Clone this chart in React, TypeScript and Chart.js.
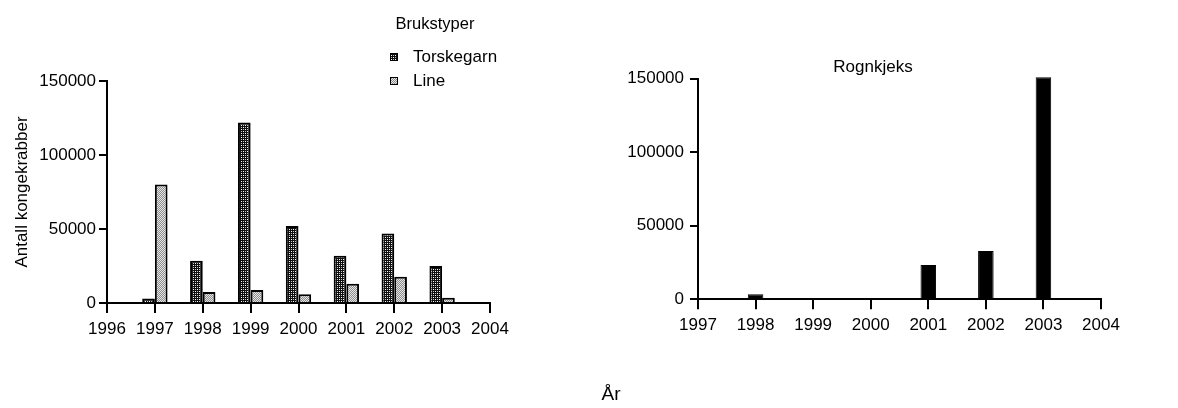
import { useEffect, useRef } from 'react';
import { Chart, registerables } from 'chart.js';
Chart.register(...registerables);

const leftYears = ['1996', '1997', '1998', '1999', '2000', '2001', '2002', '2003', '2004'];
const torskegarn = [null, 3000, 28500, 122000, 52000, 32000, 47000, 25000, null];
const lineSeries = [null, 80000, 7500, 8800, 5900, 13000, 17800, 3500, null];
const rightYears = ['1997', '1998', '1999', '2000', '2001', '2002', '2003', '2004'];
const rognkjeks = [null, 3400, 0, 0, 23300, 32800, 151000, null];
const yTicks = [0, 50000, 100000, 150000];
const legendTitle = 'Brukstyper';
const seriesNames = ['Torskegarn', 'Line'];
const rightTitle = 'Rognkjeks';
const yTitle = 'Antall kongekrabber';
const xTitle = 'År';

const FONT = '"Liberation Sans", Arial, sans-serif';

function makePattern(kind: 'dark' | 'light'): CanvasPattern | string {
  const c = document.createElement('canvas');
  const g = c.getContext('2d');
  if (!g) return kind === 'dark' ? '#333' : '#bbb';
  if (kind === 'dark') {
    c.width = 4; c.height = 4;
    g.fillStyle = '#101010'; g.fillRect(0, 0, 4, 4);
    g.fillStyle = '#ffffff'; g.fillRect(1, 1, 1, 1); g.fillRect(3, 3, 1, 1);
    g.fillStyle = '#c8c8c8'; g.fillRect(1, 3, 1, 1); g.fillRect(3, 1, 1, 1);
  } else {
    c.width = 2; c.height = 2;
    g.fillStyle = '#e6e6e6'; g.fillRect(0, 0, 2, 2);
    g.fillStyle = '#8c8c8c'; g.fillRect(1, 0, 1, 1); g.fillRect(0, 1, 1, 1);
  }
  return g.createPattern(c, 'repeat') || '#888';
}

const tickFont = { family: FONT, size: 17 };

function axisCommon(tickLength: number, padding: number) {
  return {
    border: { display: true, color: '#000', width: 2 },
    grid: { display: true, drawOnChartArea: false, drawTicks: true, tickLength, color: '#000', lineWidth: 2, offset: false },
    ticks: { color: '#000', font: tickFont, padding },
  };
}

const legendPlugin = {
  id: 'customLegend',
  afterDraw(chart: any) {
    const ctx = chart.ctx as CanvasRenderingContext2D;
    const area = chart.chartArea;
    const boxX = area.right - 100;
    ctx.save();
    ctx.fillStyle = '#000';
    ctx.font = `16.5px ${FONT}`;
    ctx.textAlign = 'center';
    ctx.textBaseline = 'middle';
    ctx.fillText(legendTitle, boxX + 45, area.top - 57);
    chart.data.datasets.forEach((ds: any, i: number) => {
      const y = area.top - 24 + i * 24;
      ctx.fillStyle = ds.backgroundColor;
      ctx.fillRect(boxX, y - 4, 8, 8);
      ctx.strokeStyle = '#000';
      ctx.lineWidth = 1;
      ctx.strokeRect(boxX + 0.5, y - 3.5, 7, 7);
      ctx.fillStyle = '#000';
      ctx.textAlign = 'left';
      ctx.font = `17px ${FONT}`;
      ctx.fillText(ds.label, boxX + 23, y);
    });
    // shared x-axis title, centred on the whole figure
    ctx.textAlign = 'center';
    ctx.font = `19px ${FONT}`;
    ctx.fillText(xTitle, chart.width / 2, 395);
    ctx.restore();
  },
};

export default function App() {
  const leftRef = useRef<HTMLCanvasElement>(null);
  const rightRef = useRef<HTMLCanvasElement>(null);

  useEffect(() => {
    const dark = makePattern('dark');
    const light = makePattern('light');
    const yAxis = (width: number, pad: number) => ({
      type: 'linear' as const,
      min: 0,
      max: 150000,
      afterBuildTicks: (scale: any) => { scale.ticks = yTicks.map((v) => ({ value: v })); },
      afterFit: (scale: any) => { scale.width = width; },
      ...axisCommon(8, pad),
      ticks: { color: '#000', font: tickFont, padding: pad, callback: (v: any) => String(v) },
    });

    const left = new Chart(leftRef.current!, {
      type: 'bar',
      data: {
        labels: leftYears,
        datasets: [
          { label: seriesNames[0], data: torskegarn, backgroundColor: dark, borderColor: '#000', borderWidth: 2 },
          { label: seriesNames[1], data: lineSeries, backgroundColor: light, borderColor: '#000', borderWidth: 2 },
        ],
      },
      options: {
        animation: false,
        responsive: false,
        maintainAspectRatio: false,
        layout: { padding: { left: 0, top: 81, right: 732, bottom: 0 } },
        datasets: { bar: { categoryPercentage: 0.53, barPercentage: 1 } },
        plugins: {
          legend: { display: false },
          tooltip: { enabled: false },
          title: { display: false },
        },
        scales: {
          x: {
            type: 'category',
            offset: false,
            afterFit: (scale: any) => { scale.height = 408 - 303; },
            ...axisCommon(10, 6),
          },
          y: {
            ...yAxis(107, 3),
            title: { display: true, text: yTitle, color: '#000', font: { family: FONT, size: 17 }, padding: { top: 12, bottom: 0 } },
          },
        },
      },
      plugins: [legendPlugin],
    } as any);

    const right = new Chart(rightRef.current!, {
      type: 'bar',
      data: {
        labels: rightYears,
        datasets: [
          { label: rightTitle, data: rognkjeks, backgroundColor: '#000', borderColor: '#000', borderWidth: 1, clip: false },
        ],
      },
      options: {
        animation: false,
        responsive: false,
        maintainAspectRatio: false,
        layout: { padding: { left: 0, top: 0, right: 0, bottom: 0 } },
        datasets: { bar: { categoryPercentage: 0.27, barPercentage: 1 } },
        plugins: {
          legend: { display: false },
          tooltip: { enabled: false },
          title: {
            display: true, position: 'top', text: rightTitle, color: '#000',
            font: { family: FONT, size: 17, weight: 'normal' }, padding: { top: 56.8, bottom: 1.5 },
          },
        },
        scales: {
          x: {
            type: 'category',
            offset: false,
            afterFit: (scale: any) => { scale.height = 350 - 299.3; },
            ...axisCommon(10, 6),
          },
          y: yAxis(98, 6),
          yPad: {
            type: 'linear',
            position: 'right',
            display: true,
            border: { display: false },
            grid: { display: false, drawTicks: false },
            ticks: { display: false },
            afterFit: (scale: any) => { scale.width = 45; },
          },
        },
      },
    } as any);

    return () => { left.destroy(); right.destroy(); };
  }, []);

  return (
    <div style={{ position: 'fixed', left: 0, top: 0, width: 1178, height: 408, overflow: 'hidden', background: '#fff' }}>
      <canvas ref={leftRef} width={1222} height={408} style={{ position: 'absolute', left: 0, top: 0, width: 1222, height: 408 }} />
      <canvas ref={rightRef} width={546} height={350} style={{ position: 'absolute', left: 600, top: 0, width: 546, height: 350 }} />
    </div>
  );
}
